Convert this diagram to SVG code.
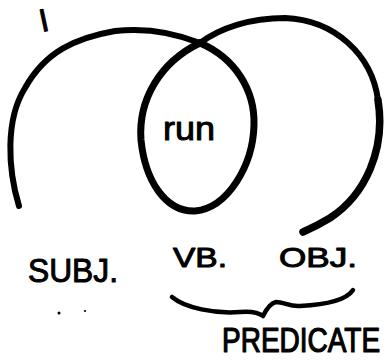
<svg xmlns="http://www.w3.org/2000/svg" width="387" height="360" viewBox="0 0 387 360">
<style>
.ink{fill:none;stroke:#000;stroke-linecap:round;stroke-linejoin:round}
.t{font-family:"Liberation Sans","DejaVu Sans",sans-serif;fill:#000;stroke:#000;stroke-width:1;stroke-linejoin:round}
</style>
<rect width="387" height="360" fill="#fff"/>
<g id="circles">
<path class="ink" stroke-width="6" d="M19,206 C8,170 5,120 25,88 C45,52 75,38 115,31 C150,27 180,35 200,43"/>
<path class="ink" stroke-width="7" d="M200,43 C235,58 255,90 254,125 C253,165 228,208 195,211 C165,212 145,180 141,140 C138,100 160,62 200,43"/>
<path class="ink" stroke-width="6" d="M200,43 C220,28 250,18 285,18 C335,20 372,55 378,100"/>
<path class="ink" stroke-width="7.5" d="M378,100 C386,150 365,195 330,218 C320,224 310,229 303,232"/>
</g>
<g id="labels">
<text class="t" x="0" y="0" font-size="32" transform="translate(46,31) rotate(-12)" text-anchor="middle">I</text>
<text class="t" x="163" y="140" font-size="34" textLength="52" lengthAdjust="spacingAndGlyphs">run</text>
<text class="t" x="28" y="282" font-size="33" textLength="90" lengthAdjust="spacingAndGlyphs">SUBJ.</text>
<text class="t" x="173" y="267" font-size="27" textLength="54" lengthAdjust="spacingAndGlyphs">VB.</text>
<text class="t" x="279" y="267" font-size="28" textLength="78" lengthAdjust="spacingAndGlyphs">OBJ.</text>
<text class="t" x="0" y="0" font-size="28" transform="translate(222,352) scale(1,1.22)">PREDICATE</text>
</g>
<g id="brace">
<path class="ink" stroke-width="4.5" d="M172,297 C185,308 215,314 240,312 C252,311 258,312 263,316 C266,310 270,303 276,302 C284,302 290,307 300,306 C320,305 345,302 353,290"/>
</g>
<g id="dots">
<circle cx="59" cy="313" r="1.5"/>
<circle cx="85" cy="311" r="1.1"/>
</g>
</svg>
